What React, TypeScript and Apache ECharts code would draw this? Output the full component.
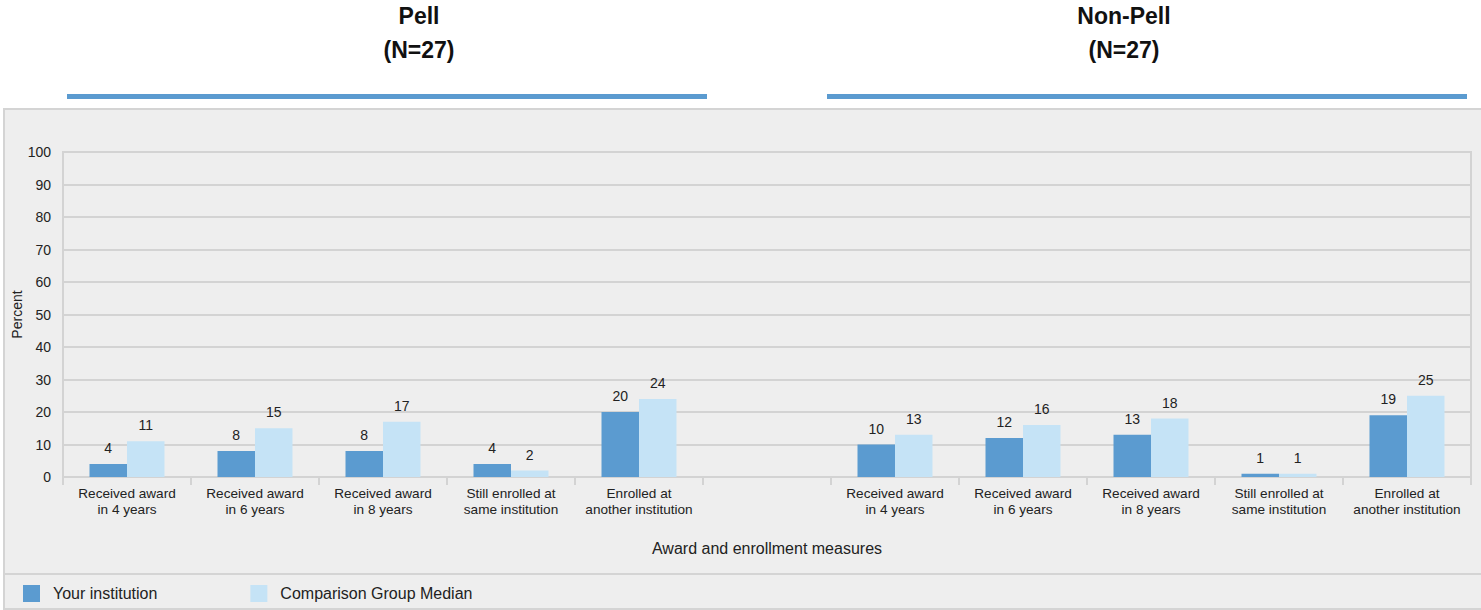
import React, { useEffect, useRef } from "react";
import * as echarts from "echarts";

const categories = [
  "Received award\nin 4 years",
  "Received award\nin 6 years",
  "Received award\nin 8 years",
  "Still enrolled at\nsame institution",
  "Enrolled at\nanother institution",
  "",
  "Received award\nin 4 years",
  "Received award\nin 6 years",
  "Received award\nin 8 years",
  "Still enrolled at\nsame institution",
  "Enrolled at\nanother institution",
];
const yourInstitution = [4, 8, 8, 4, 20, null, 10, 12, 13, 1, 19];
const comparisonMedian = [11, 15, 17, 2, 24, null, 13, 16, 18, 1, 25];
const groupTitles = ["Pell\n(N=27)", "Non-Pell\n(N=27)"];
const seriesNames = ["Your institution", "Comparison Group Median"];

const FONT = "'Liberation Sans', Arial, Helvetica, sans-serif";
const DARK = "#5b9bd0";
const LIGHT = "#c5e3f6";
const GRID = "#d3d3d3";
const TEXT = "#222222";

export default function App() {
  const ref = useRef<HTMLDivElement>(null);
  useEffect(() => {
    if (!ref.current) return;
    const chart = echarts.init(ref.current, undefined, { renderer: "svg" });
    const labelCfg = {
      show: true,
      position: "top",
      distance: 9,
      fontSize: 14,
      color: TEXT,
      fontFamily: FONT,
    };
    const titleStyle = (text: string) => ({
      text,
      textAlign: "center",
      textVerticalAlign: "middle",
      fontSize: 23,
      fontWeight: "bold",
      fontFamily: FONT,
      lineHeight: 34,
      fill: "#111",
    });
    chart.setOption({
      animation: false,
      textStyle: { fontFamily: FONT },
      graphic: [
        {
          type: "rect",
          z: -100,
          silent: true,
          shape: { x: 4, y: 109, width: 1482, height: 500 },
          style: { fill: "#eeeeee", stroke: "#d4d4d4", lineWidth: 2 },
        },
        {
          type: "line",
          z: -99,
          silent: true,
          shape: { x1: 4, y1: 574, x2: 1481, y2: 574 },
          style: { stroke: "#d4d4d4", lineWidth: 2 },
        },
        {
          type: "rect",
          silent: true,
          shape: { x: 67, y: 94, width: 640, height: 5 },
          style: { fill: DARK },
        },
        {
          type: "rect",
          silent: true,
          shape: { x: 827, y: 94, width: 640, height: 5 },
          style: { fill: DARK },
        },
        { type: "text", x: 419, y: 33, style: titleStyle(groupTitles[0]) },
        { type: "text", x: 1124, y: 33, style: titleStyle(groupTitles[1]) },
      ],
      grid: {
        left: 63,
        right: 10,
        top: 152,
        bottom: 133,
        show: true,
        borderColor: GRID,
        borderWidth: 2,
        backgroundColor: "transparent",
        containLabel: false,
        outerBoundsMode: "none",
      },
      legend: {
        data: seriesNames,
        left: 23,
        top: 585,
        padding: 0,
        icon: "rect",
        itemWidth: 17,
        itemHeight: 17,
        itemGap: 93,
        textStyle: {
          fontSize: 16,
          color: TEXT,
          fontFamily: FONT,
          padding: [0, 0, 0, 8],
        },
      },
      xAxis: {
        type: "category",
        data: categories,
        name: "Award and enrollment measures",
        nameLocation: "middle",
        nameGap: 63,
        nameMoveOverlap: false,
        nameTextStyle: { fontSize: 16, color: TEXT, fontFamily: FONT },
        axisLine: { show: true, lineStyle: { color: GRID, width: 2 } },
        axisTick: { show: true, length: 8, lineStyle: { color: GRID, width: 2 } },
        axisLabel: {
          interval: 0,
          fontSize: 13.6,
          lineHeight: 16,
          color: TEXT,
          margin: 8,
          fontFamily: FONT,
        },
      },
      yAxis: {
        type: "value",
        min: 0,
        max: 100,
        interval: 10,
        name: "Percent",
        nameLocation: "middle",
        nameGap: 39,
        nameMoveOverlap: false,
        nameRotate: 90,
        nameTextStyle: { fontSize: 14, color: TEXT, fontFamily: FONT },
        axisLine: { show: true, lineStyle: { color: GRID, width: 2 } },
        axisTick: { show: false },
        splitLine: { show: true, lineStyle: { color: GRID, width: 2 } },
        axisLabel: { fontSize: 14, color: TEXT, margin: 12, fontFamily: FONT },
      },
      series: [
        {
          name: seriesNames[0],
          type: "bar",
          data: yourInstitution,
          barWidth: 37.5,
          barGap: "0%",
          itemStyle: { color: DARK },
          label: labelCfg,
        },
        {
          name: seriesNames[1],
          type: "bar",
          data: comparisonMedian,
          barWidth: 37.5,
          barGap: "0%",
          itemStyle: { color: LIGHT },
          label: labelCfg,
        },
      ],
    });
    return () => chart.dispose();
  }, []);
  return (
    <div
      ref={ref}
      style={{ position: "absolute", left: 0, top: 0, width: 1481, height: 610 }}
    />
  );
}
